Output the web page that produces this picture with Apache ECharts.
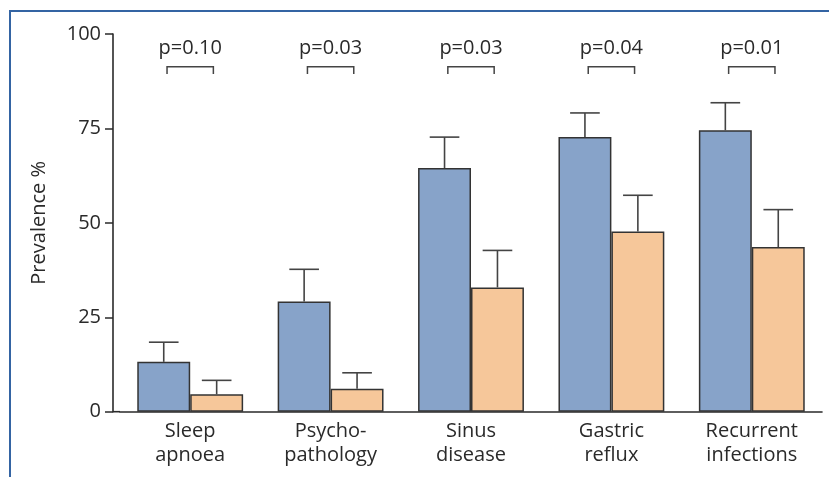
<!DOCTYPE html>
<html>
<head>
<meta charset="utf-8">
<script src="https://cdn.jsdelivr.net/npm/echarts@6/dist/echarts.min.js"></script>
<style>
html,body{margin:0;padding:0;background:#fff;}
#wrap{position:relative;width:829px;height:477px;}
#frame{position:absolute;left:9px;top:10px;right:0;bottom:0;border-top:2px solid #3464a3;border-left:2px solid #3464a3;pointer-events:none;}
#chart{position:absolute;left:0;top:0;width:829px;height:477px;}
</style>
</head>
<body>
<div id="wrap"><div id="chart"></div><div id="frame"></div></div>
<script>
const categories = ['Sleep\napnoea', 'Psycho-\npathology', 'Sinus\ndisease', 'Gastric\nreflux', 'Recurrent\ninfections'];
const groupA = [13.2, 29.2, 64.5, 72.7, 74.5];
const groupAUpper = [18.4, 37.7, 72.7, 79.1, 81.8];
const groupB = [4.6, 6.1, 32.9, 47.7, 43.6];
const groupBUpper = [8.3, 10.3, 42.7, 57.3, 53.5];
const pValues = ['p=0.10', 'p=0.03', 'p=0.03', 'p=0.04', 'p=0.01'];
const bracketTop = 91.3;
const bracketLeg = 89.4;
const yTicks = [0, 25, 50, 75, 100];

const FONT = '"Open Sans", "Noto Sans", sans-serif';
const FS = 20;
const BAR_FRAC = 0.377; // fraction of band per bar
const INK = '#2a2a2a';

const chart = echarts.init(document.getElementById('chart'), null, {renderer: 'canvas'});

function errorRender(side) {
  return function (params, api) {
    const idx = api.value(0);
    const base = api.coord([idx, api.value(1)]);
    const top = api.coord([idx, api.value(2)]);
    const band = api.size([1, 0])[0];
    const bw = band * BAR_FRAC;
    const x = base[0] + side * bw / 2;
    const half = bw * 0.28;
    return {
      type: 'group',
      children: [
        {type: 'line', shape: {x1: x, y1: base[1], x2: x, y2: top[1]}, style: {stroke: '#444', lineWidth: 1.6}},
        {type: 'line', shape: {x1: x - half, y1: top[1], x2: x + half, y2: top[1]}, style: {stroke: '#444', lineWidth: 1.6}}
      ]
    };
  };
}

function bracketRender(params, api) {
  const idx = api.value(0);
  const t = api.coord([idx, api.value(1)]);
  const l = api.coord([idx, api.value(2)]);
  const band = api.size([1, 0])[0];
  const hw = band * 0.165;
  return {
    type: 'group',
    children: [
      {type: 'polyline', shape: {points: [[t[0] - hw, l[1]], [t[0] - hw, t[1]], [t[0] + hw, t[1]], [t[0] + hw, l[1]]]},
       style: {stroke: '#444', lineWidth: 1.5, fill: null}},
      {type: 'text', style: {text: pValues[idx], x: t[0], y: t[1] - 19, align: 'center', verticalAlign: 'middle',
       font: FS + 'px ' + FONT, fill: INK}}
    ]
  };
}

const option = {
  animation: false,
  grid: {left: 120, right: 7, top: 34, bottom: 65.3},
  xAxis: {
    type: 'category',
    data: categories,
    boundaryGap: true,
    axisLine: {lineStyle: {color: INK, width: 1.6}},
    axisTick: {alignWithLabel: true, length: 6, lineStyle: {color: INK, width: 1.5}},
    axisLabel: {color: INK, fontSize: FS, fontFamily: FONT, lineHeight: 24, margin: 8}
  },
  yAxis: {
    type: 'value',
    min: 0, max: 100, interval: 25,
    offset: 7,
    name: 'Prevalence %',
    nameLocation: 'middle',
    nameGap: 64,
    nameRotate: 90,
    nameTextStyle: {color: INK, fontSize: FS, fontFamily: FONT},
    axisLine: {show: true, lineStyle: {color: INK, width: 1.6}},
    axisTick: {show: true, length: 8, lineStyle: {color: INK, width: 1.5}},
    axisLabel: {color: INK, fontSize: FS, fontFamily: FONT, margin: 12,
      formatter: function (v) { return yTicks.indexOf(v) >= 0 ? String(v) : ''; }},
    splitLine: {show: false}
  },
  series: [
    {type: 'bar', name: 'A', data: groupA, barGap: '0%', barCategoryGap: '24.6%',
     itemStyle: {color: '#87a3c9', borderColor: '#333', borderWidth: 1.5}},
    {type: 'bar', name: 'B', data: groupB, barGap: '0%', barCategoryGap: '24.6%',
     itemStyle: {color: '#f6c79a', borderColor: '#333', borderWidth: 1.5}},
    {type: 'custom', renderItem: errorRender(-1), z: 3,
     data: groupA.map((v, i) => [i, v, groupAUpper[i]])},
    {type: 'custom', renderItem: errorRender(1), z: 3,
     data: groupB.map((v, i) => [i, v, groupBUpper[i]])},
    {type: 'custom', renderItem: bracketRender, z: 3,
     data: pValues.map((p, i) => [i, bracketTop, bracketLeg])}
  ]
};
chart.setOption(option);

// close the gap between the offset y-axis and the x-axis line
const y0 = chart.convertToPixel({yAxisIndex: 0}, 0);
chart.setOption({
  graphic: [{type: 'line', shape: {x1: option.grid.left - option.yAxis.offset, y1: y0, x2: option.grid.left, y2: y0},
    style: {stroke: INK, lineWidth: 1.6}}]
});
</script>
</body>
</html>
